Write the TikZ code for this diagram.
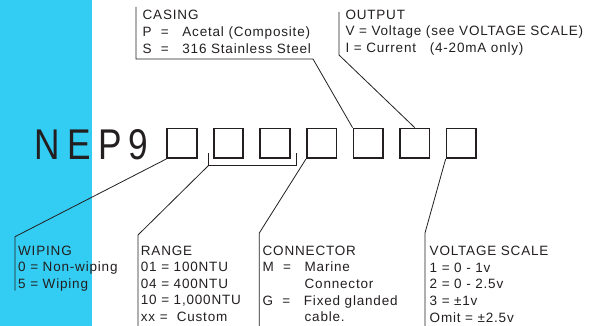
\documentclass[tikz,border=0pt]{standalone}
\usepackage{fontspec}
\setmainfont{Liberation Sans}
\newfontfamily\specfont[LetterSpace=6]{Liberation Sans}
\newfontfamily\modelfont[FakeStretch=0.82,LetterSpace=17]{Liberation Sans}
\usetikzlibrary{positioning}
\definecolor{panelBlue}{RGB}{51,204,242}
\definecolor{inkGray}  {RGB}{35,31,32}
\tikzset{
  digit/.style = {rectangle, draw=inkGray, line width=1.8pt,
                  minimum size=29.5pt, inner sep=0pt},
  lead/.style  = {draw=inkGray, line width=0.8pt},
  spec/.style  = {anchor=north west, inner sep=0pt, align=left, text=inkGray,
                  font=\specfont\fontsize{13.5pt}{16.6pt}\selectfont},
}

\begin{document}
\begin{tikzpicture}[x=1pt, y=-1pt]
\useasboundingbox (0,0) rectangle (602,326);

% ---- Side panel -------------------------------------------------------------
\fill[panelBlue] (0,0) rectangle (92,326);

% ---- Model code and option boxes --------------------------------------------
\node[anchor=base west, inner sep=0pt, text=inkGray,
      font=\modelfont\fontsize{43pt}{43pt}\selectfont] (model) at (34.3,159) {NEP9};

\node[digit] (b1) at (182,143.3) {};
\node[digit, right=15.25pt of b1] (b2) {};
\node[digit, right=15.25pt of b2] (b3) {};
\node[digit, right=15.25pt of b3] (b4) {};
\node[digit, right=15.25pt of b4] (b5) {};
\node[digit, right=15.25pt of b5] (b6) {};
\node[digit, right=15.25pt of b6] (b7) {};

% ---- Upper callouts ---------------------------------------------------------
\node[spec] (casing) at (142.5,10.2) {%
  CASING\\P~~=~~~Acetal (Composite)\\S~~=~~~316 Stainless Steel};

\node[spec] (output) at (345.3,9.7) {%
  OUTPUT\\V = Voltage (see VOLTAGE SCALE)\\I = Current~~~(4-20mA only)};

% ---- Lower callouts ---------------------------------------------------------
\node[spec] (wiping) at (18,245.4) {%
  WIPING\\0 = Non-wiping\\5 = Wiping};

\node[spec] (range) at (140.7,245.4) {%
  RANGE\\01 = 100NTU\\04 = 400NTU\\10 = 1,000NTU\\xx =~~Custom};

\node[spec] (connector) at (262.5,245.7) {%
  CONNECTOR\\M~~=~~~Marine\\\phantom{M~~=~~~}Connector\\
  G~~=~~~Fixed glanded\\\phantom{M~~=~~~}cable.};

\node[spec] (voltage) at (429.5,246) {%
  VOLTAGE SCALE\\1 = 0 - 1v\\2 = 0 - 2.5v\\3 = ±1v\\Omit = ±2.5v};

% ---- Leader bends -----------------------------------------------------------
\coordinate (casingtop)    at (136,7);
\coordinate (casingcorner) at (136,59);
\coordinate (casingend)    at (313,59);
\coordinate (outputtop)    at (339,12);
\coordinate (outputknee)   at (339,55);
\coordinate (rangeleft)    at (208.3,153);
\coordinate (rangehook)    at (208.3,165.7);
\coordinate (rangeright)   at (296,153);
\coordinate (wipingknee)   at (15,236.7);
\coordinate (wipingfoot)   at (15,290.7);
\coordinate (rangeknee)    at (138,235);
\coordinate (rangefoot)    at (138,326);
\coordinate (connknee)     at (259.3,233);
\coordinate (connfoot)     at (259.3,326);
\coordinate (voltknee)     at (425,233);
\coordinate (voltfoot)     at (425,326);

% ---- Leaders ----------------------------------------------------------------
\draw[lead] (b5.north west) -- (casingend) -- (casingcorner) -- (casingtop);
\draw[lead] (b6.north) -- (outputknee) -- (outputtop);
\draw[lead] (rangeleft) -- (rangehook) -| (rangeright);
\draw[lead] (b1.south west) -- (wipingknee) -- (wipingfoot);
\draw[lead] (rangehook) -- (rangeknee) -- (rangefoot);
\draw[lead] (b4.south west) -- (connknee) -- (connfoot);
\draw[lead] (b7.south west) -- (voltknee) -- (voltfoot);

\end{tikzpicture}
\end{document}
